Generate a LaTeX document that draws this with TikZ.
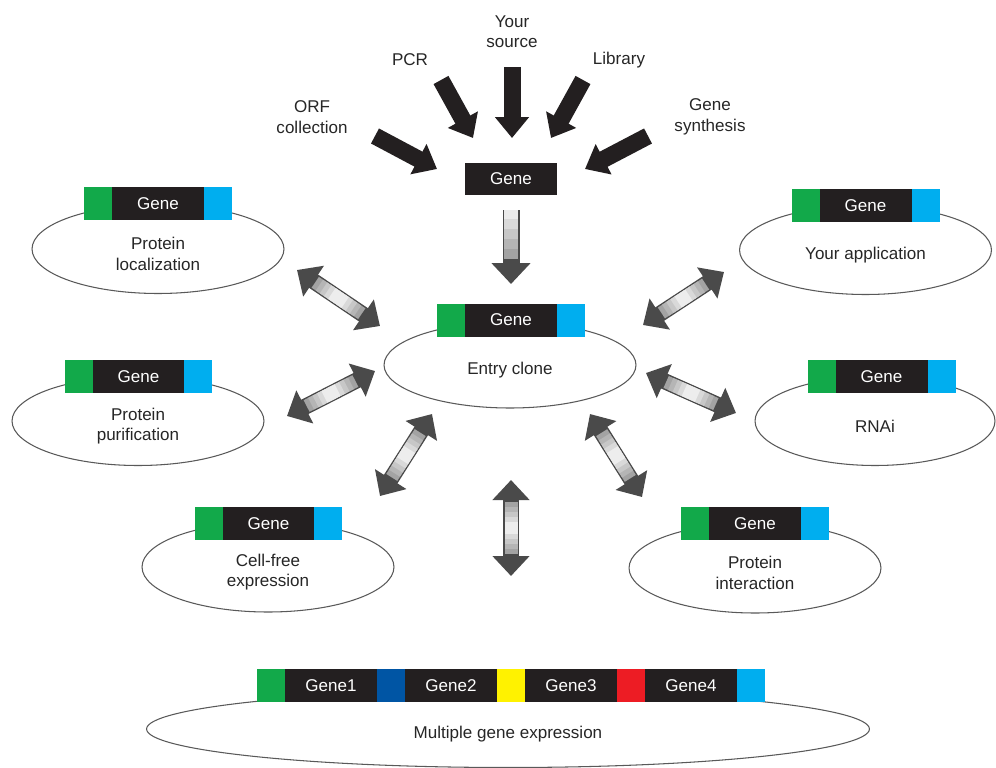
\documentclass[tikz,border=0pt]{standalone}
\usepackage{fontspec}
\setmainfont{Liberation Sans}
\usepackage{xcolor}
\usetikzlibrary{arrows.meta,positioning,shapes.geometric}
\definecolor{gwgreen}{HTML}{12A94A}
\definecolor{gwcyan}{HTML}{00AEEF}
\definecolor{gwblack}{HTML}{231F20}
\definecolor{gwblue}{HTML}{0055A4}
\definecolor{gwyellow}{HTML}{FFF200}
\definecolor{gwred}{HTML}{ED1C24}
\definecolor{gwdark}{HTML}{4A4A4A}

\begin{document}
\begin{tikzpicture}[
    x=0.02cm, y=-0.02cm,
    font=\fontsize{9.7}{11.6}\selectfont,
    lbl/.style={align=center, text=black!85},
    ptext/.style={lbl, yshift=-0.1cm},
    plasmid/.style={ellipse, draw=black!65, line width=0.6pt, minimum width=5.04cm, minimum height=1.78cm, inner sep=0pt},
    seg/.style={minimum height=0.66cm, inner sep=0pt, outer sep=0pt},
    genebox/.style={seg, fill=gwblack, text=white, minimum width=1.84cm},
    linkbox/.style={seg, minimum width=0.56cm},
    attlbox/.style={linkbox, fill=gwgreen},
    attrbox/.style={linkbox, fill=gwcyan},
    srcarrow/.style={line width=0.34cm, draw=gwblack, -{Triangle[length=0.42cm, width=0.66cm]}},
    downarrow/.style={line width=0.34cm, draw=gwdark, -{Triangle[length=0.42cm, width=0.76cm]},
      postaction={draw=gray!72, -, line width=0.28cm, shorten >=0.5cm},
      postaction={draw=gray!58, -, line width=0.28cm, shorten >=0.7cm},
      postaction={draw=gray!44, -, line width=0.28cm, shorten >=0.9cm},
      postaction={draw=gray!30, -, line width=0.28cm, shorten >=1.1cm},
      postaction={draw=gray!16, -, line width=0.28cm, shorten >=1.3cm}},
    dblarrow/.style={line width=0.32cm, draw=gwdark, {Triangle[length=0.4cm, width=0.72cm]}-{Triangle[length=0.4cm, width=0.72cm]},
      postaction={draw=gray!72, -, line width=0.26cm, shorten <=0.44cm, shorten >=0.44cm},
      postaction={draw=gray!58, -, line width=0.26cm, shorten <=0.54cm, shorten >=0.54cm},
      postaction={draw=gray!44, -, line width=0.26cm, shorten <=0.64cm, shorten >=0.64cm},
      postaction={draw=gray!30, -, line width=0.26cm, shorten <=0.74cm, shorten >=0.74cm},
      postaction={draw=gray!14, -, line width=0.26cm, shorten <=0.84cm, shorten >=0.84cm}}
  ]
    \path[use as bounding box, fill=white] (0,0) rectangle (996,767);

    % sources
    \node[lbl] (src) at (512,32) {Your\\source};
    \node[lbl] (pcr) at (410,60) {PCR};
    \node[lbl] (lib) at (619,60) {Library};
    \node[lbl] (orf) at (312,117) {ORF\\collection};
    \node[lbl] (syn) at (710,117) {Gene\\synthesis};
    \node[genebox] (gene) at (511,179) {Gene};

    \coordinate (srcA) at (512,67);  \coordinate (srcB) at (512,138);
    \coordinate (pcrA) at (441,80);  \coordinate (pcrB) at (473,138);
    \coordinate (libA) at (583,80);  \coordinate (libB) at (551,138);
    \coordinate (orfA) at (375,136); \coordinate (orfB) at (437,169);
    \coordinate (synA) at (648,136); \coordinate (synB) at (585,169);
    \draw[srcarrow] (srcA) -- (srcB);
    \draw[srcarrow] (pcrA) -- (pcrB);
    \draw[srcarrow] (libA) -- (libB);
    \draw[srcarrow] (orfA) -- (orfB);
    \draw[srcarrow] (synA) -- (synB);

    % entry clone
    \node[plasmid, minimum height=1.72cm] (entry) at (510,365) {};
    \node[ptext] (entrytxt) at (entry) {Entry clone};
    \node[genebox] (entryg) at (511,320) {Gene};
    \node[attlbox, left=0pt of entryg] (entryl) {};
    \node[attrbox, right=0pt of entryg] (entryr) {};

    \coordinate (downA) at (511,210); \coordinate (downB) at (511,284);
    \draw[downarrow] (downA) -- (downB);

    % applications
    \node[plasmid] (loc) at (158,249) {};
    \node[ptext] (loctxt) at (loc) {Protein\\localization};
    \node[genebox] (locg) at (158,203.5) {Gene};
    \node[attlbox, left=0pt of locg] (locl) {};
    \node[attrbox, right=0pt of locg] (locr) {};

    \node[plasmid] (pur) at (138,421) {};
    \node[ptext] (purtxt) at (pur) {Protein\\purification};
    \node[genebox] (purg) at (138.5,376.5) {Gene};
    \node[attlbox, left=0pt of purg] (purl) {};
    \node[attrbox, right=0pt of purg] (purr) {};

    \node[plasmid, minimum height=1.8cm] (cfe) at (268,567) {};
    \node[ptext] (cfetxt) at (cfe) {Cell-free\\expression};
    \node[genebox] (cfeg) at (268.5,523.5) {Gene};
    \node[attlbox, left=0pt of cfeg] (cfel) {};
    \node[attrbox, right=0pt of cfeg] (cfer) {};

    \node[plasmid] (app) at (865.5,250) {};
    \node[ptext] (apptxt) at (app) {Your application};
    \node[genebox] (appg) at (865.5,205.5) {Gene};
    \node[attlbox, left=0pt of appg] (appl) {};
    \node[attrbox, right=0pt of appg] (appr) {};

    \node[plasmid, minimum width=4.8cm] (rnai) at (875,421) {};
    \node[ptext] (rnaitxt) at (rnai) {RNAi};
    \node[genebox] (rnaig) at (881.5,376.5) {Gene};
    \node[attlbox, left=0pt of rnaig] (rnail) {};
    \node[attrbox, right=0pt of rnaig] (rnair) {};

    \node[plasmid, minimum height=1.8cm] (pin) at (755,568) {};
    \node[ptext] (pintxt) at (pin) {Protein\\interaction};
    \node[genebox] (ping) at (755,523.5) {Gene};
    \node[attlbox, left=0pt of ping] (pinl) {};
    \node[attrbox, right=0pt of ping] (pinr) {};

    % multiple genes
    \node[plasmid, minimum width=14.46cm, minimum height=1.54cm] (multi) at (508,729) {};
    \node[ptext] (multitxt) at (multi) {Multiple gene expression};
    \node[attlbox] (m0) at (271,685.5) {};
    \node[genebox, right=0pt of m0] (m1) {Gene1};
    \node[linkbox, fill=gwblue, right=0pt of m1] (m12) {};
    \node[genebox, right=0pt of m12] (m2) {Gene2};
    \node[linkbox, fill=gwyellow, right=0pt of m2] (m23) {};
    \node[genebox, right=0pt of m23] (m3) {Gene3};
    \node[linkbox, fill=gwred, right=0pt of m3] (m34) {};
    \node[genebox, right=0pt of m34] (m4) {Gene4};
    \node[attrbox, right=0pt of m4] (m5) {};

    % exchange arrows
    \coordinate (locA) at (297,270); \coordinate (locB) at (380,326);
    \coordinate (purA) at (287,416); \coordinate (purB) at (375,371);
    \coordinate (cfeA) at (380,496); \coordinate (cfeB) at (432,414);
    \coordinate (mulA) at (511,480); \coordinate (mulB) at (511,576);
    \coordinate (appA) at (724,272); \coordinate (appB) at (643,325);
    \coordinate (rnaiA) at (646,373); \coordinate (rnaiB) at (736,413);
    \coordinate (pinA) at (590,414); \coordinate (pinB) at (642,497);
    \draw[dblarrow] (locA) -- (locB);
    \draw[dblarrow] (purA) -- (purB);
    \draw[dblarrow] (cfeA) -- (cfeB);
    \draw[dblarrow] (mulA) -- (mulB);
    \draw[dblarrow] (appA) -- (appB);
    \draw[dblarrow] (rnaiA) -- (rnaiB);
    \draw[dblarrow] (pinA) -- (pinB);
\end{tikzpicture}
\end{document}
